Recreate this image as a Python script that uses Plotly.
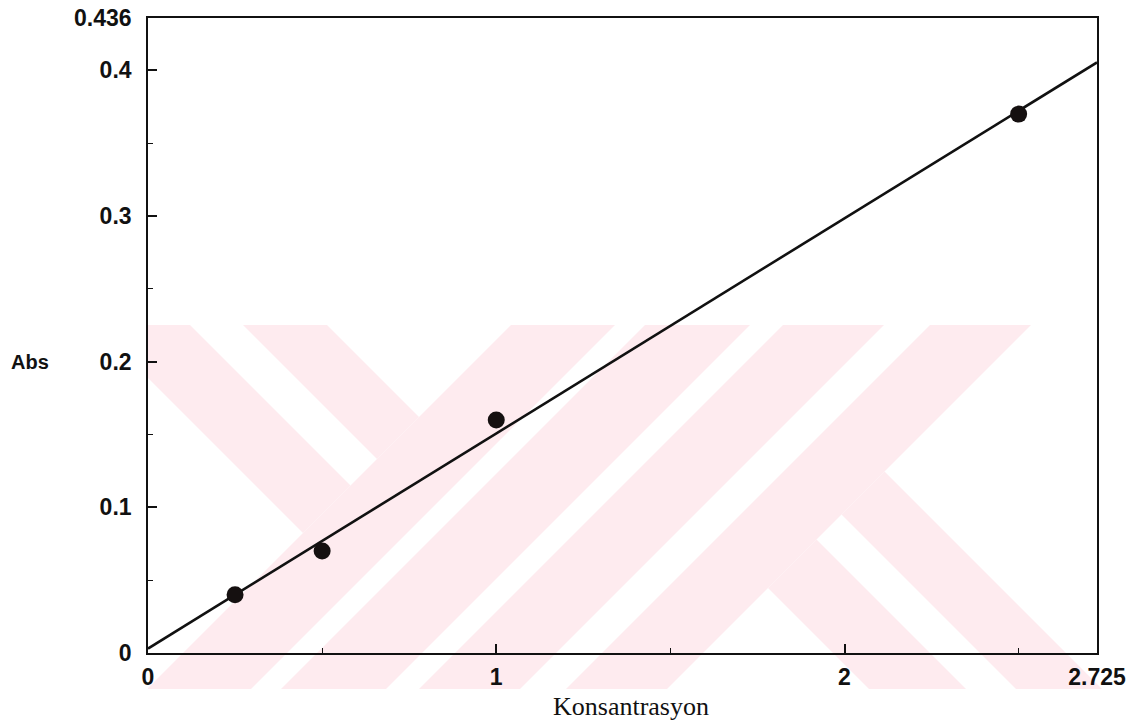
import numpy as np
import plotly.graph_objects as go

# ---------------- data ----------------
konsantrasyon = [0.25, 0.5, 1.0, 2.5]
absorbans = [0.04, 0.07, 0.16, 0.37]

x_range = [0, 2.725]
y_range = [0, 0.436]
x_tickvals = [0, 1, 2, 2.725]
x_ticktext = ["0", "1", "2", "2.725"]
y_tickvals = [0, 0.1, 0.2, 0.3, 0.4, 0.436]
y_ticktext = ["0", "0.1", "0.2", "0.3", "0.4", "0.436"]
x_minor = [0.5, 1.5, 2.5]
y_minor = [0.05, 0.15, 0.25, 0.35]

# least-squares calibration line through the points
slope, intercept = np.polyfit(konsantrasyon, absorbans, 1)
fit_x = np.array(x_range)
fit_y = slope * fit_x + intercept

# ---------------- layout geometry ----------------
W, H = 1135, 728
ML, MR, MT, MB = 148, 38, 18, 75
PW, PH = W - ML - MR, H - MT - MB


def to_paper(sx, sy):
    """screen pixel -> paper coordinates"""
    return (sx - ML) / PW, (H - MB - sy) / PH


# ---------------- background watermark (decoration) ----------------
WM_BOX = (148, 1120, 325, 689)           # screen pixel box x0, x1, y0, y1
WM_COLOR = "rgb(254,235,239)"
# pieces: (u=x+y min, u max, v=x-y min, v max) in screen pixels
WM_PIECES = [
    (None, 836, -230, -135),
    (None, 836, -82, 2),
    (836, 940, None, None),
    (970, 1075, None, None),
    (1108, 1209, None, None),
    (1255, 1356, None, None),
    (1356, None, 180, 277),
    (1356, None, 327, 413),
]


def clip(poly, a, b, c):
    """keep part of polygon with a*x + b*y <= c"""
    out = []
    n = len(poly)
    for i in range(n):
        p, q = poly[i], poly[(i + 1) % n]
        fp = a * p[0] + b * p[1] - c
        fq = a * q[0] + b * q[1] - c
        if fp <= 0:
            out.append(p)
        if fp * fq < 0:
            t = fp / (fp - fq)
            out.append((p[0] + t * (q[0] - p[0]), p[1] + t * (q[1] - p[1])))
    return out


shapes = []
x0, x1, y0, y1 = WM_BOX
for umin, umax, vmin, vmax in WM_PIECES:
    poly = [(x0, y0), (x1, y0), (x1, y1), (x0, y1)]
    if umin is not None:
        poly = clip(poly, -1, -1, -umin)
    if umax is not None:
        poly = clip(poly, 1, 1, umax)
    if vmin is not None:
        poly = clip(poly, -1, 1, -vmin)
    if vmax is not None:
        poly = clip(poly, 1, -1, vmax)
    if len(poly) < 3:
        continue
    pts = [to_paper(px, py) for px, py in poly]
    path = "M " + " L ".join(f"{a:.5f},{b:.5f}" for a, b in pts) + " Z"
    shapes.append(dict(type="path", path=path, xref="paper", yref="paper",
                       fillcolor=WM_COLOR, line=dict(width=0), layer="below"))

# ---------------- figure ----------------
fig = go.Figure()
fig.add_trace(go.Scatter(x=fit_x, y=fit_y, mode="lines",
                         line=dict(color="#111111", width=2.6),
                         hoverinfo="skip", showlegend=False, cliponaxis=False))
fig.add_trace(go.Scatter(x=konsantrasyon, y=absorbans, mode="markers",
                         marker=dict(color="#151010", size=17, line=dict(width=0)),
                         showlegend=False))

tick_font = dict(family="Liberation Sans, Arial, sans-serif", size=23,
                 color="#111111", weight="bold")
axis_common = dict(showline=True, linecolor="#111111", linewidth=1.6,
                   mirror=True, showgrid=False, zeroline=False, automargin=False,
                   ticks="inside", ticklen=9, tickwidth=1.5, tickcolor="#111111",
                   tickfont=tick_font, tickmode="array", ticklabeloverflow="allow")

fig.update_xaxes(range=x_range, tickvals=x_tickvals, ticktext=x_ticktext,
                 ticklabelstandoff=3,
                 minor=dict(tickvals=x_minor, ticks="inside", ticklen=5,
                            tickwidth=1.2, tickcolor="#111111"),
                 **axis_common)
fig.update_yaxes(range=y_range, tickvals=y_tickvals, ticktext=y_ticktext,
                 ticklabelstandoff=10,
                 minor=dict(tickvals=y_minor, ticks="inside", ticklen=5,
                            tickwidth=1.2, tickcolor="#111111"),
                 **axis_common)

ax, ay = to_paper(30, 362)
bx, by = to_paper(631, 706)
fig.update_layout(
    width=W, height=H,
    margin=dict(l=ML, r=MR, t=MT, b=MB, pad=0, autoexpand=False),
    paper_bgcolor="white", plot_bgcolor="rgba(0,0,0,0)",
    shapes=shapes,
    annotations=[
        dict(text="Abs", x=ax, y=ay, xref="paper", yref="paper",
             showarrow=False, xanchor="center", yanchor="middle",
             font=dict(family="Liberation Sans, Arial, sans-serif", size=20,
                       color="#111111", weight="bold")),
        dict(text="Konsantrasyon", x=bx, y=by, xref="paper", yref="paper",
             showarrow=False, xanchor="center", yanchor="middle",
             font=dict(family="Liberation Serif, Times New Roman, serif",
                       size=26, color="#111111")),
    ],
)

# the figure fills the window from its top-left corner (no default page margin)
fig.write_html("out.html",
               config={"displayModeBar": False},
               post_script="document.body.style.margin='0';")
